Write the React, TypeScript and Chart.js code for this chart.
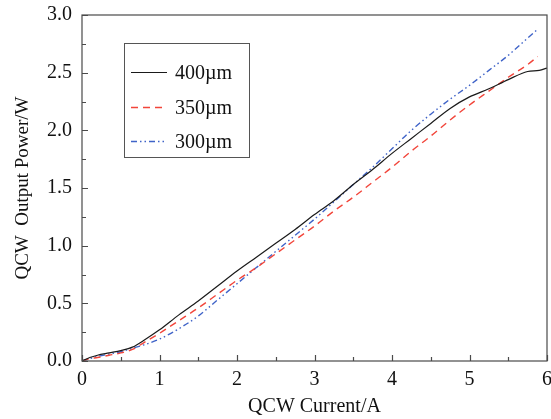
import React, { useEffect, useRef } from "react";
import { Chart, registerables } from "chart.js";

Chart.register(...registerables);

const seriesLabels = ["400\u00b5m", "350\u00b5m", "300\u00b5m"];

const current400 = [0, 0.1, 0.2, 0.35, 0.5, 0.65, 0.8, 1.0, 1.25, 1.5, 1.75, 2.0, 2.25, 2.5, 2.75, 3.0, 3.25, 3.5, 3.75, 4.0, 4.25, 4.5, 4.75, 5.0, 5.25, 5.5, 5.75, 5.9, 6.0];
const power400 = [0, 0.03, 0.05, 0.07, 0.09, 0.12, 0.18, 0.27, 0.4, 0.52, 0.65, 0.78, 0.9, 1.02, 1.14, 1.27, 1.39, 1.53, 1.66, 1.8, 1.93, 2.06, 2.19, 2.29, 2.36, 2.44, 2.51, 2.52, 2.54];

const current350 = [0, 0.1, 0.2, 0.35, 0.5, 0.65, 0.8, 1.0, 1.25, 1.5, 1.75, 2.0, 2.25, 2.5, 2.75, 3.0, 3.25, 3.5, 3.75, 4.0, 4.25, 4.5, 4.75, 5.0, 5.25, 5.5, 5.75, 5.88];
const power350 = [0, 0.02, 0.03, 0.05, 0.07, 0.1, 0.16, 0.24, 0.35, 0.46, 0.58, 0.7, 0.81, 0.93, 1.05, 1.17, 1.3, 1.42, 1.55, 1.68, 1.82, 1.95, 2.09, 2.22, 2.34, 2.46, 2.57, 2.64];

const current300 = [0, 0.1, 0.2, 0.35, 0.5, 0.65, 0.8, 1.0, 1.25, 1.5, 1.75, 2.0, 2.25, 2.5, 2.75, 3.0, 3.25, 3.5, 3.75, 4.0, 4.25, 4.5, 4.75, 5.0, 5.25, 5.5, 5.75, 5.87];
const power300 = [0, 0.02, 0.04, 0.06, 0.08, 0.11, 0.14, 0.19, 0.28, 0.39, 0.53, 0.67, 0.81, 0.95, 1.09, 1.23, 1.38, 1.53, 1.68, 1.84, 2.0, 2.14, 2.27, 2.39, 2.52, 2.65, 2.8, 2.87];

const xTickValues = [0, 1, 2, 3, 4, 5, 6];
const yTickValues = [0, 0.5, 1.0, 1.5, 2.0, 2.5, 3.0];

const xTitle = "QCW Current/A";
const yTitle = "QCW  Output Power/W";

const FONT = "'Liberation Serif', 'Times New Roman', serif";

const toPoints = (xs: number[], ys: number[]) => xs.map((x, i) => ({ x, y: ys[i] }));

const framePlugin = {
  id: "frameTicks",
  afterDraw(chart: any) {
    const { ctx, chartArea } = chart;
    const { left, right, top, bottom } = chartArea;
    const xs = chart.scales.x;
    const ys = chart.scales.y;
    ctx.save();
    ctx.strokeStyle = "#4a4a4a";
    ctx.lineWidth = 1.2;
    ctx.strokeRect(left, top, right - left, bottom - top);
    ctx.beginPath();
    for (let v = 0; v <= 6.0001; v += 0.5) {
      const p = Math.round(xs.getPixelForValue(v)) + 0.5;
      const len = Math.abs(v - Math.round(v)) < 1e-6 ? 6 : 4;
      ctx.moveTo(p, bottom);
      ctx.lineTo(p, bottom - len);
    }
    for (let v = 0; v <= 3.0001; v += 0.25) {
      const p = Math.round(ys.getPixelForValue(v)) + 0.5;
      const len = Math.abs(v * 2 - Math.round(v * 2)) < 1e-6 ? 6 : 4;
      ctx.moveTo(left, p);
      ctx.lineTo(left + len, p);
    }
    ctx.stroke();

    // legend box
    const bx = 124, by = 43, bw = 125, bh = 114;
    ctx.strokeStyle = "#555";
    ctx.lineWidth = 1;
    ctx.strokeRect(bx + 0.5, by + 0.5, bw, bh);
    const rows = [72, 107, 141];
    chart.data.datasets.forEach((ds: any, i: number) => {
      const y = rows[i] + 0.5;
      ctx.beginPath();
      ctx.strokeStyle = ds.borderColor;
      ctx.lineWidth = ds.borderWidth;
      ctx.setLineDash(ds.borderDash || []);
      ctx.moveTo(131, y);
      ctx.lineTo(167, y);
      ctx.stroke();
      ctx.setLineDash([]);
      ctx.fillStyle = "#111";
      ctx.font = `20px ${FONT}`;
      ctx.textBaseline = "middle";
      ctx.textAlign = "left";
      ctx.fillText(ds.label, 175, y + 1);
    });
    ctx.restore();
  },
};

export default function App() {
  const ref = useRef<HTMLCanvasElement | null>(null);
  useEffect(() => {
    document.body.style.margin = "0";
    const canvas = ref.current!;
    const chart = new Chart(canvas, {
      type: "line",
      data: {
        datasets: [
          {
            label: seriesLabels[0],
            data: toPoints(current400, power400),
            borderColor: "#1a1a1a",
            borderWidth: 1.2,
            pointRadius: 0,
            cubicInterpolationMode: "monotone",
          },
          {
            label: seriesLabels[1],
            data: toPoints(current350, power350),
            borderColor: "#f2453a",
            borderWidth: 1.4,
            borderDash: [7, 5],
            pointRadius: 0,
            cubicInterpolationMode: "monotone",
          },
          {
            label: seriesLabels[2],
            data: toPoints(current300, power300),
            borderColor: "#3f63c8",
            borderWidth: 1.4,
            borderDash: [6, 3, 1.5, 3, 1.5, 3],
            pointRadius: 0,
            cubicInterpolationMode: "monotone",
          },
        ] as any,
      },
      options: {
        animation: false,
        responsive: false,
        maintainAspectRatio: false,
        layout: { padding: { left: 0, right: 4, top: 15, bottom: 0 } },
        plugins: { legend: { display: false }, tooltip: { enabled: false } },
        scales: {
          x: {
            type: "linear",
            min: 0,
            max: 6,
            afterBuildTicks: (s: any) => {
              s.ticks = xTickValues.map((v) => ({ value: v }));
            },
            afterFit: (s: any) => {
              s.height = 58;
              s.paddingLeft = 0;
              s.paddingRight = 0;
            },
            grid: { display: false, drawTicks: false },
            border: { display: false },
            ticks: {
              color: "#111",
              font: { family: FONT, size: 20 },
              padding: 7,
              maxRotation: 0,
              callback: (v: any) => String(v),
            },
            title: {
              display: true,
              text: xTitle,
              color: "#111",
              font: { family: FONT, size: 20 },
              padding: { top: 0, bottom: 0 },
            },
          },
          y: {
            type: "linear",
            min: 0,
            max: 3,
            afterBuildTicks: (s: any) => {
              s.ticks = yTickValues.map((v) => ({ value: v }));
            },
            afterFit: (s: any) => {
              s.width = 82;
              s.paddingTop = 0;
              s.paddingBottom = 0;
            },
            grid: { display: false, drawTicks: false },
            border: { display: false },
            ticks: {
              color: "#111",
              font: { family: FONT, size: 20 },
              padding: 10,
              callback: (v: any) => Number(v).toFixed(1),
            },
            title: {
              display: true,
              text: yTitle,
              color: "#111",
              font: { family: FONT, size: 19 },
              padding: { top: 12, bottom: 0 },
            },
          },
        },
      },
      plugins: [framePlugin],
    });
    return () => chart.destroy();
  }, []);
  return (
    <div style={{ width: 551, height: 419 }}>
      <canvas ref={ref} width={551} height={419} style={{ display: "block" }} />
    </div>
  );
}
